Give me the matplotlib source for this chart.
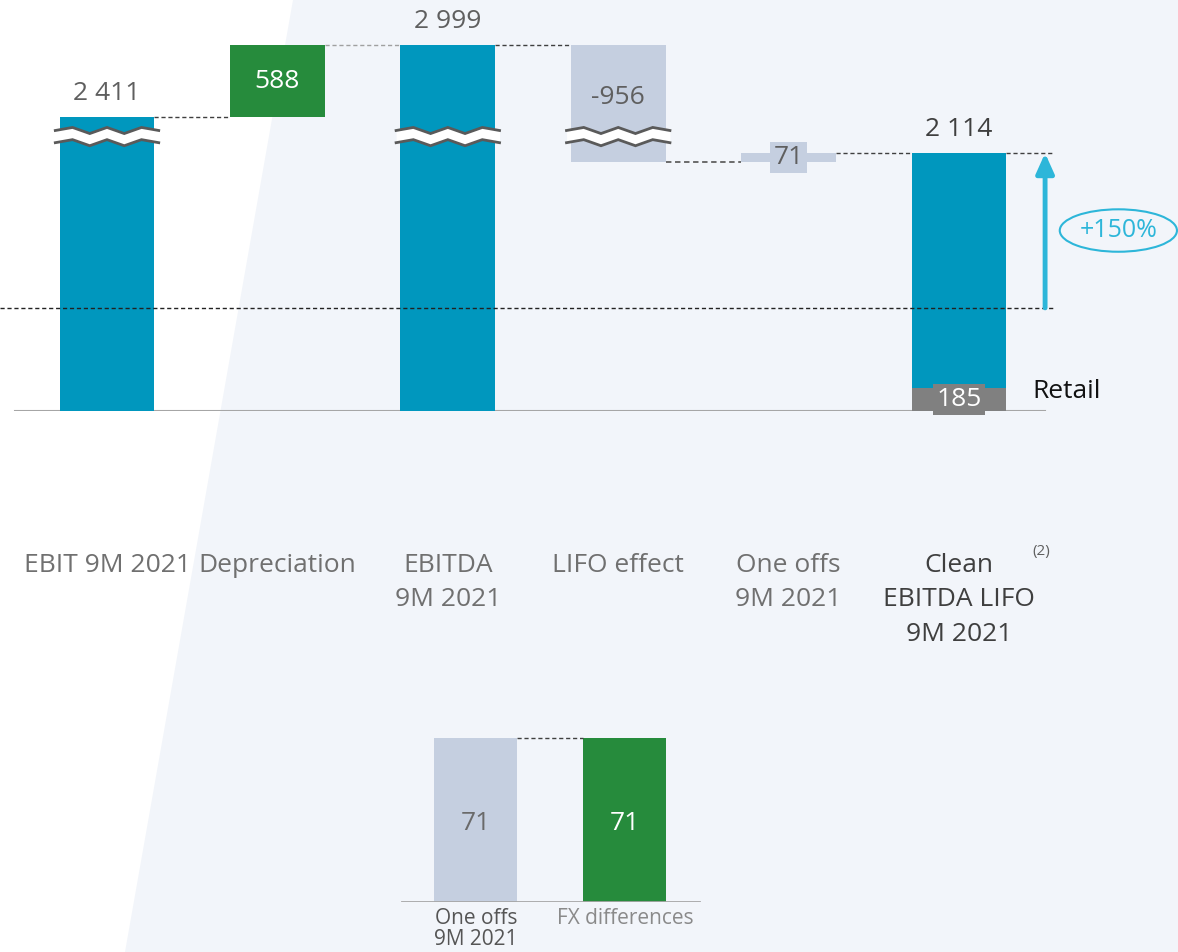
import numpy as np
import matplotlib
matplotlib.use("Agg")
import matplotlib.pyplot as plt
from matplotlib.patches import Polygon

plt.rcParams["font.family"] = ["Open Sans", "DejaVu Sans"]

# ---- data -------------------------------------------------------------
categories = ["EBIT 9M 2021", "Depreciation", "EBITDA\n9M 2021", "LIFO effect",
              "One offs\n9M 2021", "Clean\nEBITDA LIFO\n9M 2021"]
ebit = 2411
depreciation = 588
lifo_effect = -956
one_offs = 71
retail = 185
growth_pct = 150

sub_categories = ["One offs\n9M 2021", "FX differences"]
sub_values = [71, 71]

# ---- style ------------------------------------------------------------
TEAL = "#0097BE"
GREEN = "#268B3C"
LIGHT = "#C5CFE0"
GRAY = "#808080"
CYAN = "#2DB6D9"
BG = "#F2F5FA"
TXT = "#5f5f5f"
CAT = "#707070"
DARK = "#3f3f3f"
DASH = (0, (3, 2))
W = 0.557


def fmt(v):
    return f"{v:,}".replace(",", " ")


ebitda = ebit + depreciation
after_lifo = ebitda + lifo_effect
clean = after_lifo + one_offs
prior = clean / (1 + growth_pct / 100)

fig = plt.figure(figsize=(11.78, 9.52), dpi=100)
fig.patches.append(Polygon([(293 / 1178, 1), (1, 1), (1, 0), (125 / 1178, 0)],
                           closed=True, transform=fig.transFigure,
                           facecolor=BG, edgecolor="none", zorder=-10))

# ---- main waterfall ---------------------------------------------------
ax = fig.add_axes([0, 541 / 952, 1, 411 / 952])
ax.set_facecolor("none")
x = np.arange(len(categories))
ax.set_xlim(-0.628, 6.285)
ax.set_ylim(0, 3370)

ax.bar(x[0], ebit, W, color=TEAL, zorder=2)
ax.bar(x[1], depreciation, W, bottom=ebit, color=GREEN, zorder=2)
ax.bar(x[2], ebitda, W, color=TEAL, zorder=2)
ax.bar(x[3], -lifo_effect, W, bottom=after_lifo, color=LIGHT, zorder=2)
ax.bar(x[4], one_offs, W, bottom=after_lifo, color=LIGHT, zorder=2)
ax.bar(x[5], clean, W, color=TEAL, zorder=2)
ax.bar(x[5], retail, W, color=GRAY, zorder=3)

# connectors
h = W / 2
ax.plot([x[0] + h, x[1] - h], [ebit, ebit], ls=DASH, color=DARK, lw=1)
ax.plot([x[1] + h, x[2] - h], [ebitda, ebitda], ls=DASH, color="#a0a0a0", lw=1)
ax.plot([x[2] + h, x[3] - h], [ebitda, ebitda], ls=DASH, color=DARK, lw=1)
ax.plot([x[3] + h, x[4] - h], [after_lifo, after_lifo], ls=DASH, color="#606060", lw=1.3)
ax.plot([x[4] + h, x[5] - h], [clean, clean], ls=DASH, color=DARK, lw=1)
ax.plot([x[5] + h, x[5] + 0.55], [clean, clean], ls=DASH, color=DARK, lw=1, zorder=4)
ax.plot([ax.get_xlim()[0], x[5] + 0.55], [prior, prior], ls=DASH, color="#222222",
        lw=1, zorder=4)

# baseline
ax.plot([x[0] - 0.54, x[5] + 0.505], [0, 0], color="#a6a6a6", lw=1.5, zorder=1)


# axis-break zigzags
def draw_break(xc, yc, amp=25, gap=100, ext=0.025):
    fr = np.array([0, 1, 2, 3, 4, 5, 6]) / 6
    off = np.array([0, 1, -1, 1, -1, 1, 0]) * amp
    xs = xc - h - ext + fr * (W + 2 * ext)
    ax.fill_between(xs, yc + off - gap / 2, yc + off + gap / 2, color="white",
                    lw=0, zorder=5)
    ax.plot(xs, yc + off + gap / 2, color="#5a5a5a", lw=2, zorder=6,
            solid_joinstyle="miter")
    ax.plot(xs, yc + off - gap / 2, color="#5a5a5a", lw=2, zorder=6,
            solid_joinstyle="miter")


for xi in (x[0], x[2], x[3]):
    draw_break(xi, 2250)

# value labels
ax.text(x[0], ebit + 90, fmt(ebit), ha="center", va="bottom", fontsize=19, color=TXT)
ax.text(x[1], ebit + depreciation / 2, fmt(depreciation), ha="center", va="center",
        fontsize=19, color="white", zorder=7)
ax.text(x[2], ebitda + 90, fmt(ebitda), ha="center", va="bottom", fontsize=19, color=TXT)
ax.text(x[3], ebitda + 0.45 * lifo_effect, fmt(lifo_effect), ha="center", va="center",
        fontsize=19, color=TXT, zorder=7)
ax.text(x[4], after_lifo + one_offs / 2, fmt(one_offs), ha="center", va="center",
        fontsize=19, color=TXT, zorder=7,
        bbox=dict(boxstyle="square,pad=0.12", fc=LIGHT, ec="none"))
ax.text(x[5], clean + 90, fmt(clean), ha="center", va="bottom", fontsize=19, color=DARK)
ax.text(x[5], retail / 2, fmt(retail), ha="center", va="center", fontsize=19,
        color="white", zorder=7,
        bbox=dict(boxstyle="square,pad=0.12", fc=GRAY, ec="none"))
ax.text(x[5] + 0.43, retail * 0.85, "Retail", ha="left", va="center", fontsize=19,
        color="#111111")

# growth arrow
ax.annotate("", xy=(x[5] + 0.505, clean), xytext=(x[5] + 0.505, prior),
            arrowprops=dict(arrowstyle="-|>,head_length=0.6,head_width=0.27",
                            mutation_scale=20, lw=3.5, color=CYAN,
                            shrinkA=0, shrinkB=0), zorder=5)
ax.text(x[5] + 0.935, (prior + clean) / 2, f"+{growth_pct}%", ha="center",
        va="center", fontsize=18, color=CYAN,
        bbox=dict(boxstyle="ellipse,pad=0.1", fc="none", ec=CYAN, lw=1.5))

# category labels
ax.set_xticks(x, categories, fontsize=19, color=CAT, linespacing=1.5)
ax.tick_params(axis="x", length=0, pad=102)
ax.tick_params(axis="y", left=False, labelleft=False)
ax.get_xticklabels()[-1].set_color(DARK)
for s in ax.spines.values():
    s.set_visible(False)
ax.annotate("(2)", xy=(x[5] + 0.43, 0), xycoords="data", xytext=(0, -148),
            textcoords="offset pixels", ha="left", va="bottom", fontsize=11,
            color=TXT, annotation_clip=False)

# ---- one-offs breakdown -----------------------------------------------
ax2 = fig.add_axes([380 / 1178, 50 / 952, 340 / 1178, 202 / 952])
ax2.set_facecolor("none")
xs2 = np.arange(len(sub_values))
ax2.set_xlim(-0.644, 1.638)
ax2.set_ylim(0, 87.45)
ax2.bar(xs2[0], sub_values[0], W, color=LIGHT)
ax2.bar(xs2[1], sub_values[1], W, color=GREEN)
ax2.plot([xs2[0] + h, xs2[1] - h], [sub_values[0], sub_values[1]], ls=DASH,
         color=DARK, lw=1)
ax2.plot([-0.497, 1.497], [0, 0], color="#a6a6a6", lw=2)
ax2.text(xs2[0], sub_values[0] * 0.48, fmt(sub_values[0]), ha="center", va="center",
         fontsize=19, color="#6a6a6a")
ax2.text(xs2[1], sub_values[1] * 0.48, fmt(sub_values[1]), ha="center", va="center",
         fontsize=19, color="white")
ax2.set_xticks(xs2, sub_categories, fontsize=15, linespacing=1.0)
ax2.tick_params(axis="x", length=0, pad=4)
ax2.tick_params(axis="y", left=False, labelleft=False)
lab = ax2.get_xticklabels()
lab[0].set_color("#555555")
lab[1].set_color("#8a8a8a")
for s in ax2.spines.values():
    s.set_visible(False)

fig.savefig("out.png", dpi=100, facecolor="white")
